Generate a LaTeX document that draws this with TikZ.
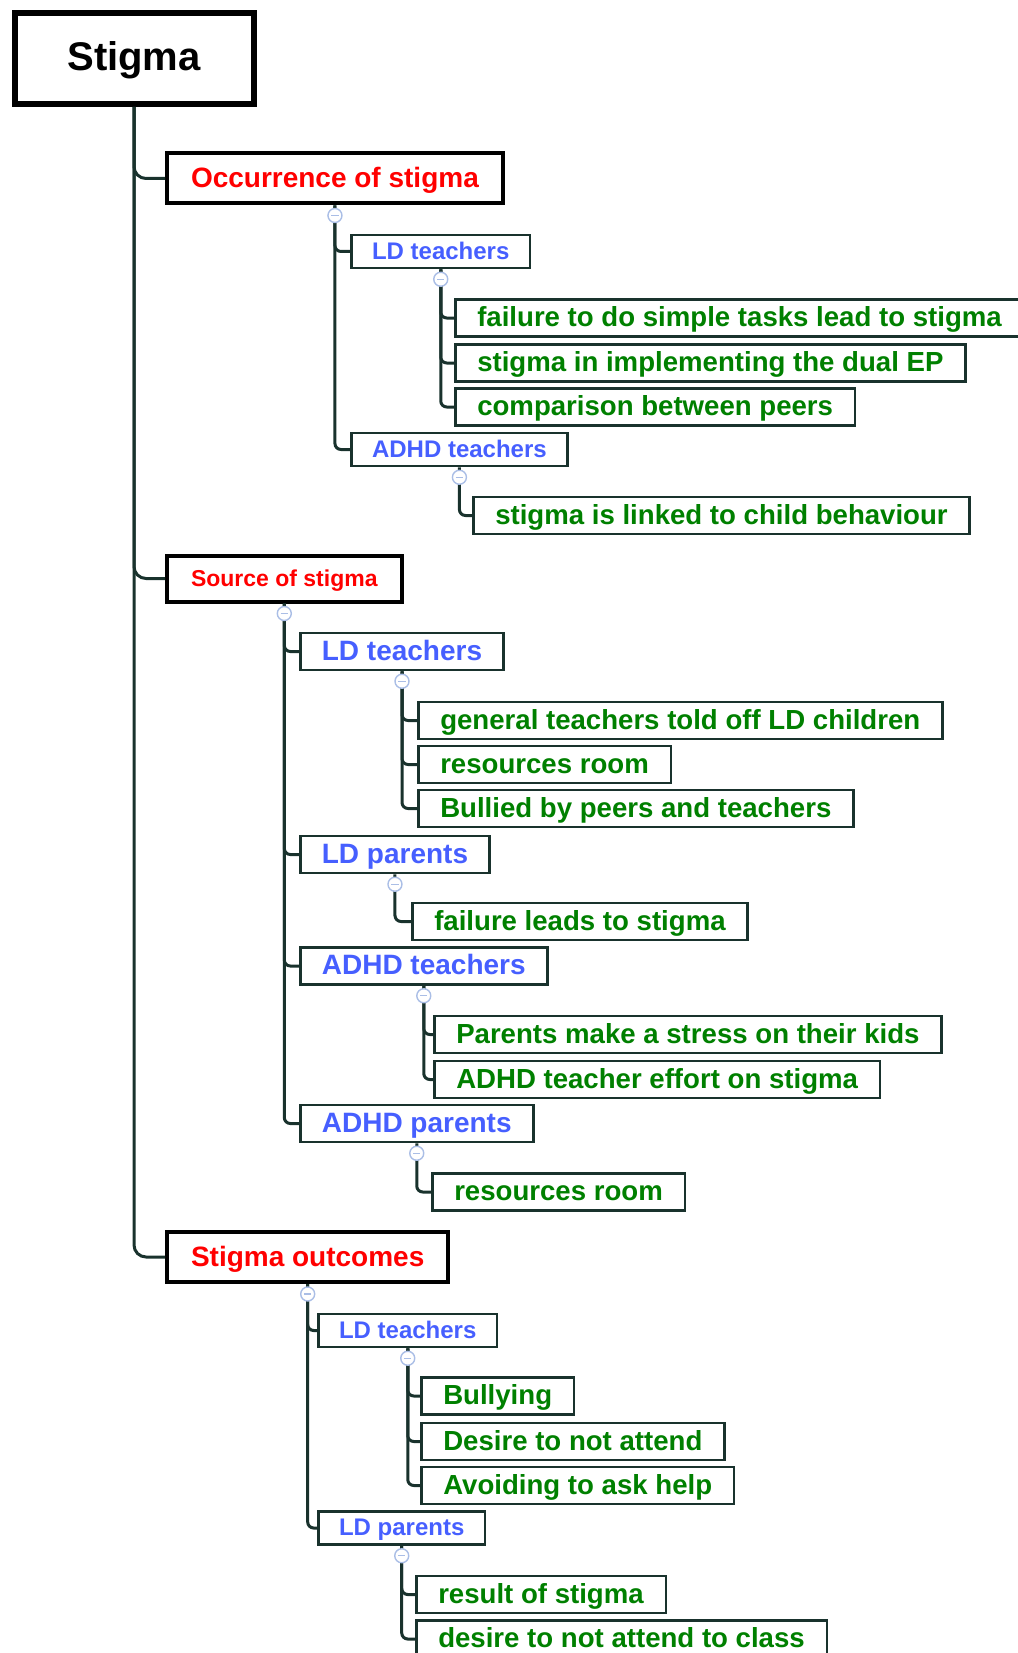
\documentclass[tikz,border=0pt]{standalone}
\usepackage{fontspec}
\setmainfont{Liberation Sans}
\usepackage{xcolor}
\usepackage{tikz}

\definecolor{stigmared}{RGB}{255,0,0}
\definecolor{groupblue}{RGB}{70,95,255}
\definecolor{leafgreen}{RGB}{0,128,0}
\definecolor{linedark}{RGB}{25,50,45}
\definecolor{togglecol}{RGB}{170,190,230}

\begin{document}
\begin{tikzpicture}[x=0.5pt, y=-0.5pt,
    rootbox/.style={rectangle, draw=black, line width=3pt, anchor=west, minimum width=119.5pt, minimum height=45.5pt, text height=14.5pt, text depth=2.5pt, font=\fontsize{20}{24}\selectfont\bfseries},
    topic/.style={rectangle, draw=black, line width=2pt, anchor=west, text=stigmared, inner xsep=12pt, minimum height=25pt, text height=10pt, text depth=0.5pt, font=\fontsize{14}{17}\selectfont\bfseries},
    group/.style={rectangle, draw=linedark, line width=1.25pt, anchor=west, text=groupblue, inner xsep=10.4pt, minimum height=16.5pt, text height=8.6pt, text depth=1pt, font=\fontsize{12}{14}\selectfont\bfseries},
    biggroup/.style={group, inner xsep=10.8pt, minimum height=18.5pt, text height=10pt, text depth=1.5pt, font=\fontsize{14}{17}\selectfont\bfseries},
    leaf/.style={rectangle, draw=linedark, line width=1.25pt, anchor=west, text=leafgreen, inner xsep=11pt, minimum height=18.5pt, text height=10pt, text depth=1.5pt, font=\fontsize{13.8}{17}\selectfont\bfseries},
    toggle/.style={circle, draw=togglecol, fill=white, line width=0.7pt, minimum size=7pt, inner sep=0pt,
        path picture={\draw[togglecol, line width=0.7pt] ([xshift=-1.8pt]path picture bounding box.center) -- ([xshift=1.8pt]path picture bounding box.center);}},
    trunk/.style={draw=linedark, line width=1.5pt, rounded corners=6pt},
    twig/.style={draw=linedark, line width=1.5pt, rounded corners=3pt}
]
    \useasboundingbox (0,0) rectangle (1017,1653);

    % Root
    \node[rootbox] (stigma) at (11.5,58.5) {Stigma};

    % Occurrence
    \node[topic] (occ) at (165,178.5) {Occurrence of stigma};
    \node[group] (occldt) at (350,251.5) {LD teachers};
    \node[leaf] (occldt1) at (454,318) {failure to do simple tasks lead to stigma};
    \node[leaf] (occldt2) at (454,363) {stigma in implementing the dual EP};
    \node[leaf] (occldt3) at (454,407) {comparison between peers};
    \node[group] (occadt) at (350,449.5) {ADHD teachers};
    \node[leaf] (occadt1) at (472,515.5) {stigma is linked to child behaviour};

    % Source
    \node[topic, minimum height=23pt, text height=8.3pt, font=\fontsize{11.5}{14}\selectfont\bfseries] (src) at (165,578.5) {Source of stigma};
    \node[biggroup] (srcldt) at (299,651.5) {LD teachers};
    \node[leaf] (srcldt1) at (417,720.5) {general teachers told off LD children};
    \node[leaf] (srcldt2) at (417,764.5) {resources room};
    \node[leaf] (srcldt3) at (417,808.5) {Bullied by peers and teachers};
    \node[biggroup] (srcldp) at (299,854.5) {LD parents};
    \node[leaf] (srcldp1) at (411,921.5) {failure leads to stigma};
    \node[biggroup] (srcadt) at (299,966) {ADHD teachers};
    \node[leaf] (srcadt1) at (433,1034.5) {Parents make a stress on their kids};
    \node[leaf] (srcadt2) at (433,1079.5) {ADHD teacher effort on stigma};
    \node[biggroup] (srcadp) at (299,1123.5) {ADHD parents};
    \node[leaf] (srcadp1) at (431,1192) {resources room};

    % Outcomes
    \node[topic] (out) at (165,1257) {Stigma outcomes};
    \node[group] (outldt) at (317,1330.5) {LD teachers};
    \node[leaf] (outldt1) at (420,1396) {Bullying};
    \node[leaf] (outldt2) at (420,1441.5) {Desire to not attend};
    \node[leaf] (outldt3) at (420,1485.5) {Avoiding to ask help};
    \node[group] (outldp) at (317,1528) {LD parents};
    \node[leaf] (outldp1) at (415,1594.5) {result of stigma};
    \node[leaf] (outldp2) at (415,1639) {desire to not attend to class};

    % Connectors
    \foreach \c in {occ,src,out}
        \draw[trunk] (stigma.south) |- (\c.west);
    \foreach \p/\c in {occ/occldt, occ/occadt, occldt/occldt1, occldt/occldt2, occldt/occldt3, occadt/occadt1,
                       src/srcldt, src/srcldp, src/srcadt, src/srcadp, srcldt/srcldt1, srcldt/srcldt2, srcldt/srcldt3,
                       srcldp/srcldp1, srcadt/srcadt1, srcadt/srcadt2, srcadp/srcadp1,
                       out/outldt, out/outldp, outldt/outldt1, outldt/outldt2, outldt/outldt3, outldp/outldp1, outldp/outldp2}
        \draw[twig] (\p.south) |- (\c.west);

    % Collapse markers
    \foreach \p in {occ,occldt,occadt,src,srcldt,srcldp,srcadt,srcadp,out,outldt,outldp}
        \node[toggle] (\p-tog) at ([yshift=-5pt]\p.south) {};
\end{tikzpicture}
\end{document}
